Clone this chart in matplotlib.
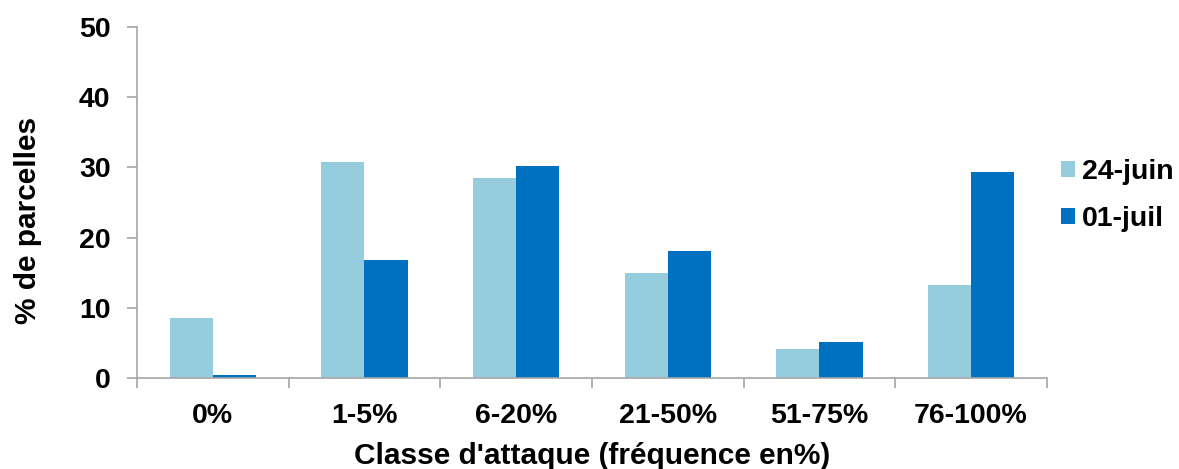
import numpy as np
import matplotlib
matplotlib.use("Agg")
import matplotlib.pyplot as plt

plt.rcParams['font.family'] = ['Liberation Sans', 'DejaVu Sans']
plt.rcParams['font.weight'] = 'bold'

classes = ['0%', '1-5%', '6-20%', '21-50%', '51-75%', '76-100%']
juin_24 = [8.6, 30.8, 28.5, 14.9, 4.1, 13.2]
juil_01 = [0.4, 16.8, 30.2, 18.1, 5.2, 29.4]
series_names = ['24-juin', '01-juil']
colores = ['#96CDDE', '#0070C0']

fs = 20.5

fig = plt.figure(figsize=(11.79, 4.69), dpi=100)
ax = fig.add_axes([0.1162, 0.194, 0.7718, 0.7484])

x = np.arange(len(classes))
w = 0.284
ax.bar(x - w / 2, juin_24, width=w, color=colores[0], label=series_names[0])
ax.bar(x + w / 2, juil_01, width=w, color=colores[1], label=series_names[1])

ax.set_xlim(-0.5, len(classes) - 0.5)
ax.set_ylim(0, 50)
ax.set_yticks(range(0, 51, 10))

# categories centred, tick marks between groups
ax.set_xticks(x)
ax.set_xticklabels(classes, fontsize=fs, fontweight='bold')
ax.set_xticks(np.arange(-0.5, len(classes)), minor=True)
ax.tick_params(axis='x', which='major', length=0, pad=18)
ax.tick_params(axis='x', which='minor', length=7, width=1.2, color='#A6A6A6', direction='out')
ax.tick_params(axis='y', length=7, width=1.2, color='#A6A6A6', labelsize=fs, pad=12)
for lab in ax.get_yticklabels():
    lab.set_fontweight('bold')

for s in ['top', 'right']:
    ax.spines[s].set_visible(False)
for s in ['left', 'bottom']:
    ax.spines[s].set_color('#A6A6A6')
    ax.spines[s].set_linewidth(1.2)

ax.set_xlabel("Classe d'attaque (fréquence en%)", fontsize=21.5, fontweight='bold', labelpad=9)
ax.set_ylabel("% de parcelles", fontsize=21.5, fontweight='bold')
ax.yaxis.set_label_coords(-0.104, 0.45)

fig.legend(loc='upper left', bbox_to_anchor=(0.9, 0.661), frameon=False,
           fontsize=fs, handlelength=0.48, handleheight=0.48, handletextpad=0.24,
           labelspacing=0.74, borderaxespad=0, borderpad=0)

fig.savefig('out.png', dpi=100)
